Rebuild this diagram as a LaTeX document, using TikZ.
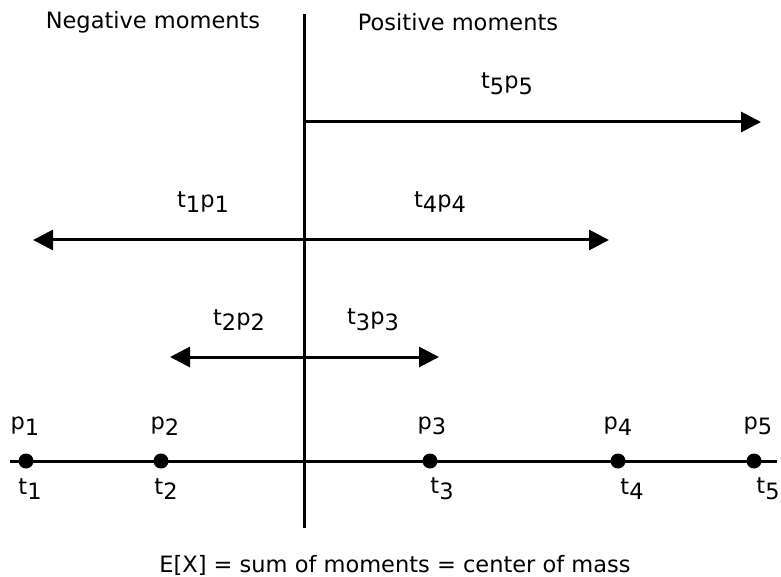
\documentclass[tikz,border=0pt]{standalone}
\usepackage{fontspec}
\setmainfont{DejaVu Sans}
\usetikzlibrary{arrows.meta}
\newcommand\sbx[1]{\raisebox{-0.45ex}{#1}}
\tikzset{
  lbl/.style={inner sep=0pt, font=\fontsize{22.5}{26}\selectfont},
  dotnode/.style={circle, fill=black, inner sep=0pt, minimum size=15pt},
  ln/.style={line width=3pt},
  arr/.style={ln, -{Triangle[length=20pt,width=20pt]}}
}
\begin{document}
\begin{tikzpicture}[x=1pt,y=-1pt]
\useasboundingbox (0,0) rectangle (781,577);
% vertical divider
\coordinate (vT) at (304,14);
\coordinate (vB) at (304,528);
\draw[ln] (vT) -- (vB);
% moment arrows
\coordinate (o1) at (304,122);
\coordinate (e5) at (761,122);
\coordinate (o2) at (304,240);
\coordinate (e1) at (33,240);
\coordinate (e4) at (609,240);
\coordinate (o3) at (304,357);
\coordinate (e2) at (170,357);
\coordinate (e3) at (439,357);
\draw[arr] (o1) -- (e5);
\draw[arr] (o2) -- (e1);
\draw[arr] (o2) -- (e4);
\draw[arr] (o3) -- (e2);
\draw[arr] (o3) -- (e3);
% axis
\coordinate (axL) at (10,461);
\coordinate (axR) at (777,461);
\draw[ln] (axL) -- (axR);
\node[dotnode] (d1) at (26,461) {};
\node[dotnode] (d2) at (161,461) {};
\node[dotnode] (d3) at (430,461) {};
\node[dotnode] (d4) at (618,461) {};
\node[dotnode] (d5) at (754,461) {};
% labels
\node[lbl] (neg) at (153,22) {Negative moments};
\node[lbl] (pos) at (458,22) {Positive moments};
\node[lbl] (m5) at (507,84) {t\sbx{5}p\sbx{5}};
\node[lbl] (m1) at (203,202) {t\sbx{1}p\sbx{1}};
\node[lbl] (m4) at (440,202) {t\sbx{4}p\sbx{4}};
\node[lbl] (m2) at (239,320) {t\sbx{2}p\sbx{2}};
\node[lbl] (m3) at (373,320) {t\sbx{3}p\sbx{3}};
\node[lbl] (p1) at (25,426) {p\sbx{1}};
\node[lbl] (p2) at (165,426) {p\sbx{2}};
\node[lbl] (p3) at (432,426) {p\sbx{3}};
\node[lbl] (p4) at (618,426) {p\sbx{4}};
\node[lbl] (p5) at (758,426) {p\sbx{5}};
\node[lbl] (t1) at (30,489) {t\sbx{1}};
\node[lbl] (t2) at (166,489) {t\sbx{2}};
\node[lbl] (t3) at (442,489) {t\sbx{3}};
\node[lbl] (t4) at (632,489) {t\sbx{4}};
\node[lbl] (t5) at (768,489) {t\sbx{5}};
\node[lbl] (ex) at (395,565) {E[X] = sum of moments = center of mass};
\end{tikzpicture}
\end{document}
